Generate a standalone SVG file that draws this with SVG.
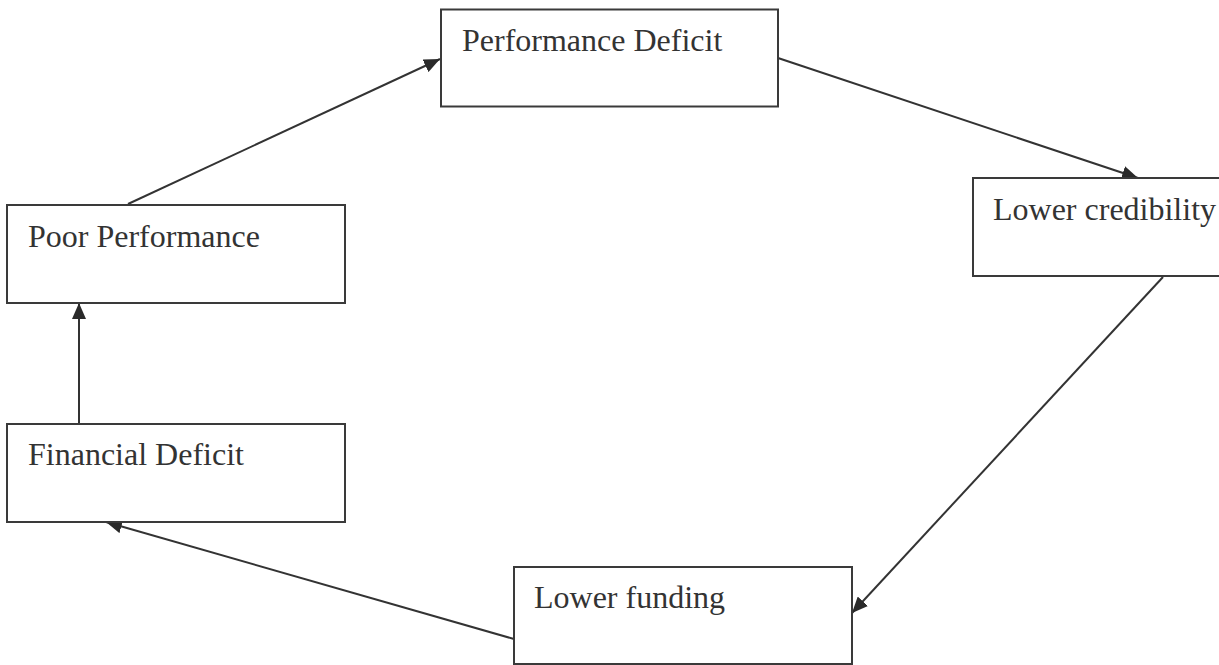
<svg xmlns="http://www.w3.org/2000/svg" width="1219" height="665" viewBox="0 0 1219 665">
<defs>
<style>
.box{fill:#fff;stroke:#3a3a3a;stroke-width:2}
.lbl{font-family:"Liberation Serif","Times New Roman",serif;font-size:32px;fill:#333}
.conn{stroke:#333;stroke-width:2;fill:none;marker-end:url(#ah)}
</style>
<marker id="ah" markerUnits="userSpaceOnUse" markerWidth="17" markerHeight="14" refX="16" refY="7" orient="auto" viewBox="0 0 17 14">
<path d="M0,0 L16,7 L0,14 Z" fill="#2a2a2a"/>
</marker>
</defs>
<rect width="1219" height="665" fill="#fff"/>
<g id="connectors">
<line class="conn" x1="128" y1="204" x2="440" y2="59"/>
<line class="conn" x1="778" y1="58" x2="1138" y2="178"/>
<line class="conn" x1="1163" y1="277" x2="852" y2="613"/>
<line class="conn" x1="514" y1="639" x2="106" y2="522"/>
<line class="conn" x1="79" y1="424" x2="79" y2="303"/>
</g>
<g id="performance-deficit">
<rect class="box" x="441" y="9.5" width="337" height="97"/>
<text class="lbl" x="462" y="51">Performance Deficit</text>
</g>
<g id="lower-credibility">
<rect class="box" x="973" y="178" width="260" height="98"/>
<text class="lbl" x="993" y="220">Lower credibility</text>
</g>
<g id="lower-funding">
<rect class="box" x="514" y="567" width="338" height="97"/>
<text class="lbl" x="534" y="608">Lower funding</text>
</g>
<g id="financial-deficit">
<rect class="box" x="7" y="424" width="338" height="98"/>
<text class="lbl" x="28" y="465">Financial Deficit</text>
</g>
<g id="poor-performance">
<rect class="box" x="7" y="205" width="338" height="98"/>
<text class="lbl" x="28" y="247">Poor Performance</text>
</g>
</svg>
